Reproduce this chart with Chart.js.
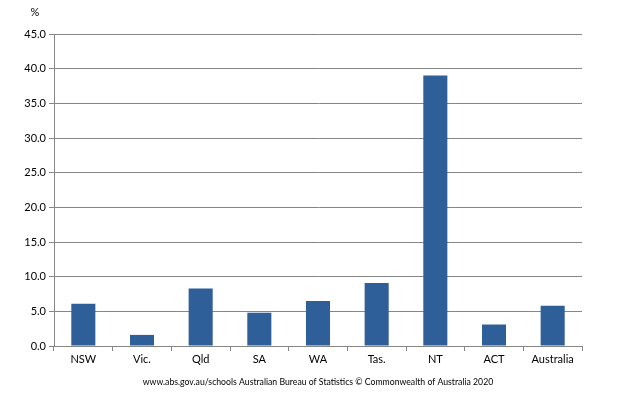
<!DOCTYPE html>
<html>
<head>
<meta charset="utf-8">
<script src="https://cdn.jsdelivr.net/npm/chart.js@4/dist/chart.umd.min.js"></script>
<style>
  html, body { margin: 0; padding: 0; background: #fff; }
  #wrap { width: 621px; height: 412px; position: relative; }
</style>
</head>
<body>
<div id="wrap"><canvas id="chart" width="621" height="412"></canvas></div>
<script>
const states = ['NSW', 'Vic.', 'Qld', 'SA', 'WA', 'Tas.', 'NT', 'ACT', 'Australia'];
const percent = [6.1, 1.6, 8.3, 4.8, 6.5, 9.1, 39.0, 3.1, 5.8];
const yTicks = [0, 5, 10, 15, 20, 25, 30, 35, 40, 45];

const unitLabel = '%';
const sourceText = 'www.abs.gov.au/schools Australian Bureau of Statistics \u00A9 Commonwealth of Australia 2020';

const fontFamily = 'Lato, "Liberation Sans", sans-serif';
const gridColor = '#868686';

// draws the % label and the source line
const extraText = {
    id: 'extraText',
    afterDraw(chart) {
        const ctx = chart.ctx;
        ctx.save();
        ctx.fillStyle = '#000';
        ctx.font = '11px ' + fontFamily;
        ctx.textAlign = 'center';
        ctx.textBaseline = 'middle';
        ctx.fillText(unitLabel, 35, 12);
        ctx.font = '8.7px ' + fontFamily;
        ctx.fillText(sourceText, 318, 382);
        ctx.restore();
    }
};

new Chart(document.getElementById('chart').getContext('2d'), {
    type: 'bar',
    data: {
        labels: states,
        datasets: [{
            data: percent,
            backgroundColor: '#2E5F98',
            categoryPercentage: 0.41,
            barPercentage: 1.0
        }]
    },
    options: {
        responsive: false,
        animation: false,
        layout: { padding: { top: 34, right: 39, bottom: 0, left: 0 } },
        plugins: {
            legend: { display: false },
            tooltip: { enabled: false }
        },
        scales: {
            x: {
                afterFit(scale) { scale.height = 66; },
                grid: {
                    drawOnChartArea: false,
                    drawTicks: true,
                    tickLength: 5,
                    color: gridColor,
                    offset: true
                },
                border: { color: gridColor },
                ticks: {
                    color: '#000',
                    font: { family: fontFamily, size: 11 },
                    maxRotation: 0,
                    padding: 2
                }
            },
            y: {
                min: 0,
                max: 45,
                afterFit(scale) { scale.width = 54; },
                afterBuildTicks(scale) {
                    scale.ticks = yTicks.map(v => ({ value: v }));
                },
                grid: {
                    color: gridColor,
                    drawTicks: true,
                    tickLength: 5
                },
                border: { color: gridColor },
                ticks: {
                    color: '#000',
                    font: { family: fontFamily, size: 11 },
                    padding: 3,
                    callback: v => v.toFixed(1)
                }
            }
        }
    },
    plugins: [extraText]
});
</script>
</body>
</html>
